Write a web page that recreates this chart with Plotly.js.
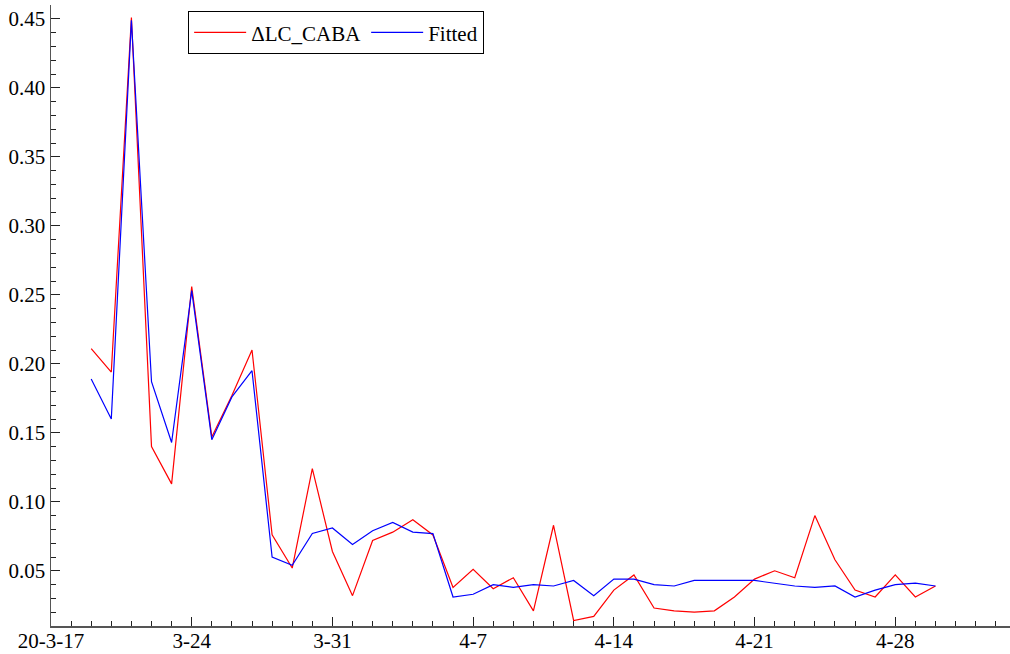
<!DOCTYPE html>
<html>
<head>
<meta charset="utf-8">
<script src="https://cdn.plot.ly/plotly-3.0.1.min.js"></script>
<style>html,body{margin:0;padding:0;background:#fff;}#chart{width:1010px;height:654px;}</style>
</head>
<body>
<div id="chart"></div>
<script>
// Dates (daily, 2020-03-19 .. 2020-04-30)
const dates = [
  '2020-03-19','2020-03-20','2020-03-21','2020-03-22','2020-03-23','2020-03-24','2020-03-25',
  '2020-03-26','2020-03-27','2020-03-28','2020-03-29','2020-03-30','2020-03-31','2020-04-01',
  '2020-04-02','2020-04-03','2020-04-04','2020-04-05','2020-04-06','2020-04-07','2020-04-08',
  '2020-04-09','2020-04-10','2020-04-11','2020-04-12','2020-04-13','2020-04-14','2020-04-15',
  '2020-04-16','2020-04-17','2020-04-18','2020-04-19','2020-04-20','2020-04-21','2020-04-22',
  '2020-04-23','2020-04-24','2020-04-25','2020-04-26','2020-04-27','2020-04-28','2020-04-29',
  '2020-04-30'
];
const dlcCaba = [
  0.211, 0.194, 0.451, 0.140, 0.113, 0.256, 0.147,
  0.177, 0.210, 0.076, 0.052, 0.124, 0.064, 0.032,
  0.072, 0.078, 0.087, 0.076, 0.038, 0.051, 0.037,
  0.045, 0.021, 0.083, 0.014, 0.017, 0.036, 0.047,
  0.023, 0.021, 0.020, 0.021, 0.031, 0.044, 0.050,
  0.045, 0.090, 0.058, 0.036, 0.031, 0.047, 0.031,
  0.039
];
const fitted = [
  0.189, 0.160, 0.449, 0.187, 0.143, 0.253, 0.145,
  0.176, 0.195, 0.060, 0.054, 0.077, 0.081, 0.069,
  0.079, 0.085, 0.078, 0.077, 0.031, 0.033, 0.040,
  0.038, 0.040, 0.039, 0.043, 0.032, 0.044, 0.044,
  0.040, 0.039, 0.043, 0.043, 0.043, 0.043, 0.041,
  0.039, 0.038, 0.039, 0.031, 0.036, 0.040, 0.041,
  0.039
];
const xTickVals = ['2020-03-17','2020-03-24','2020-03-31','2020-04-07','2020-04-14','2020-04-21','2020-04-28'];
const xTickText = ['20-3-17','3-24','3-31','4-7','4-14','4-21','4-28'];

const font = {family: 'Liberation Serif', size: 21, color: '#000'};

const traces = [
  {x: dates, y: dlcCaba, type: 'scatter', mode: 'lines', name: '\u0394LC_CABA',
   line: {color: '#ff0000', width: 1.2}},
  {x: dates, y: fitted, type: 'scatter', mode: 'lines', name: 'Fitted',
   line: {color: '#0000ff', width: 1.2}}
];

const layout = {
  width: 1010, height: 654,
  margin: {l: 51, r: 0, t: 5, b: 28},
  paper_bgcolor: '#fff', plot_bgcolor: '#fff',
  font: font,
  showlegend: true,
  legend: {
    orientation: 'h', x: 0.143, y: 0.99, xanchor: 'left', yanchor: 'top',
    bgcolor: '#fff', bordercolor: '#000', borderwidth: 1,
    font: font, tracegroupgap: 0, itemwidth: 52
  },
  xaxis: {
    type: 'date',
    range: ['2020-03-17', '2020-05-03 17:00'],
    tickmode: 'array', tickvals: xTickVals, ticktext: xTickText,
    ticks: 'inside', ticklen: 9, tickwidth: 1, tickcolor: '#222',
    ticklabelstandoff: -5,
    showline: true, linecolor: '#555', linewidth: 1.5,
    showgrid: false, zeroline: false,
    tickfont: font,
    minor: {ticks: 'inside', ticklen: 5, tickwidth: 1, tickcolor: '#222', dtick: 86400000, tick0: '2020-03-17', showgrid: false}
  },
  yaxis: {
    range: [0.01, 0.46],
    tickmode: 'linear', tick0: 0, dtick: 0.05, tickformat: '.2f',
    ticks: 'inside', ticklen: 9, tickwidth: 1, tickcolor: '#222',
    showline: true, linecolor: '#555', linewidth: 1.5,
    showgrid: false, zeroline: false,
    tickfont: font,
    minor: {ticks: 'inside', ticklen: 5, tickwidth: 1, tickcolor: '#222', dtick: 0.01, tick0: 0, showgrid: false}
  }
};

Plotly.newPlot('chart', traces, layout, {staticPlot: true, displayModeBar: false});
</script>
</body>
</html>
